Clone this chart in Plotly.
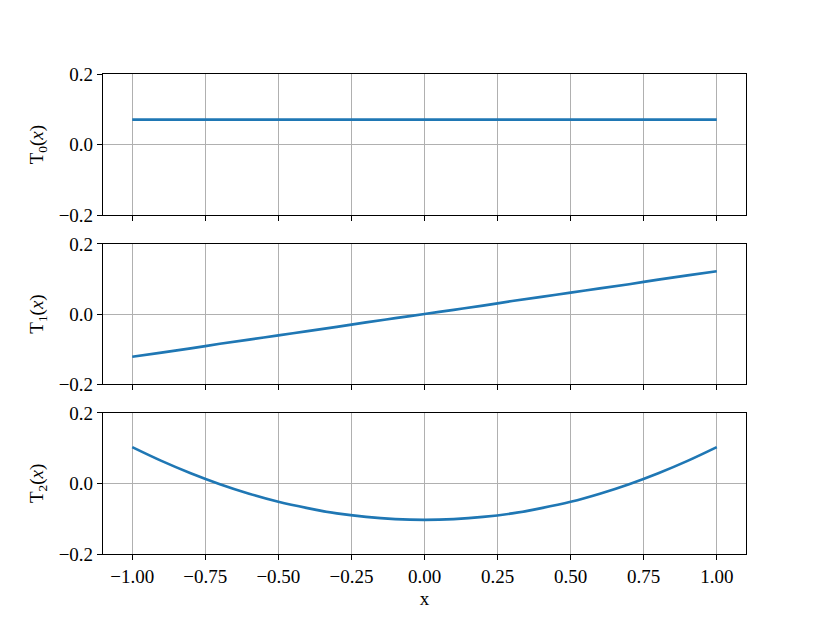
import plotly.graph_objects as go

# ---- data ----
x_vals = [-1.0, -0.9, -0.8, -0.7, -0.6, -0.5, -0.4, -0.3, -0.2, -0.1, 0.0,
          0.1, 0.2, 0.3, 0.4, 0.5, 0.6, 0.7, 0.8, 0.9, 1.0]
t0_vals = [0.0705] * 21
t1_vals = [-0.122, -0.110, -0.098, -0.085, -0.073, -0.061, -0.049, -0.037, -0.024, -0.012, 0.0,
           0.012, 0.024, 0.037, 0.049, 0.061, 0.073, 0.085, 0.098, 0.110, 0.122]
t2_vals = [0.103, 0.064, 0.029, -0.002, -0.029, -0.052, -0.070, -0.085, -0.095, -0.101, -0.103,
           -0.101, -0.095, -0.085, -0.070, -0.052, -0.029, -0.002, 0.029, 0.064, 0.103]

x_ticks = [-1.0, -0.75, -0.5, -0.25, 0.0, 0.25, 0.5, 0.75, 1.0]
x_tick_labels = ["\u22121.00", "\u22120.75", "\u22120.50", "\u22120.25", "0.00", "0.25", "0.50", "0.75", "1.00"]
y_ticks = [-0.2, 0.0, 0.2]
y_tick_labels = ["\u22120.2", "0.0", "0.2"]
y_titles = ["T<sub>0</sub>(<i>x</i>)", "T<sub>1</sub>(<i>x</i>)", "T<sub>2</sub>(<i>x</i>)"]
series = [t0_vals, t1_vals, t2_vals]

FONT = "Liberation Serif, DejaVu Serif, serif"
LINE_COLOR = "#1f77b4"
FS = 19

fig = go.Figure()
domains = [[0.706, 1.0], [0.354, 0.646], [0.0, 0.294]]

layout = dict(
    width=822, height=615,
    margin=dict(l=95, r=84, t=66, b=69),
    paper_bgcolor="white", plot_bgcolor="white",
    showlegend=False,
    font=dict(family=FONT, size=FS, color="black"),
)

for i, (vals, dom, title) in enumerate(zip(series, domains, y_titles)):
    n = "" if i == 0 else str(i + 1)
    fig.add_trace(go.Scatter(x=x_vals, y=vals, mode="lines",
                             line=dict(color=LINE_COLOR, width=2.7, shape="spline"),
                             xaxis="x" + n, yaxis="y" + n))
    xa = dict(
        domain=[0, 1], anchor="y" + n, range=[-1.1, 1.1],
        tickmode="array", tickvals=x_ticks, ticktext=x_tick_labels,
        showticklabels=(i == 2),
        ticks="outside", ticklen=5, tickwidth=1.1, tickcolor="black",
        showgrid=True, gridcolor="#b0b0b0", gridwidth=1.4,
        showline=True, linecolor="black", linewidth=1.2, mirror=True,
        zeroline=False,
    )
    if i > 0:
        xa["matches"] = "x"
    if i == 2:
        xa["title"] = dict(text="x", font=dict(size=FS), standoff=5)
    layout["xaxis" + n] = xa
    layout["yaxis" + n] = dict(
        domain=dom, anchor="x" + n, range=[-0.2, 0.2],
        tickmode="array", tickvals=y_ticks, ticktext=y_tick_labels,
        ticks="outside", ticklen=5, tickwidth=1.1, tickcolor="black",
        showgrid=True, gridcolor="#b0b0b0", gridwidth=1.4,
        showline=True, linecolor="black", linewidth=1.2, mirror=True,
        zeroline=False,
        title=dict(text=title, font=dict(size=FS), standoff=9),
    )

fig.update_layout(**layout)
fig.write_html("out.html")
